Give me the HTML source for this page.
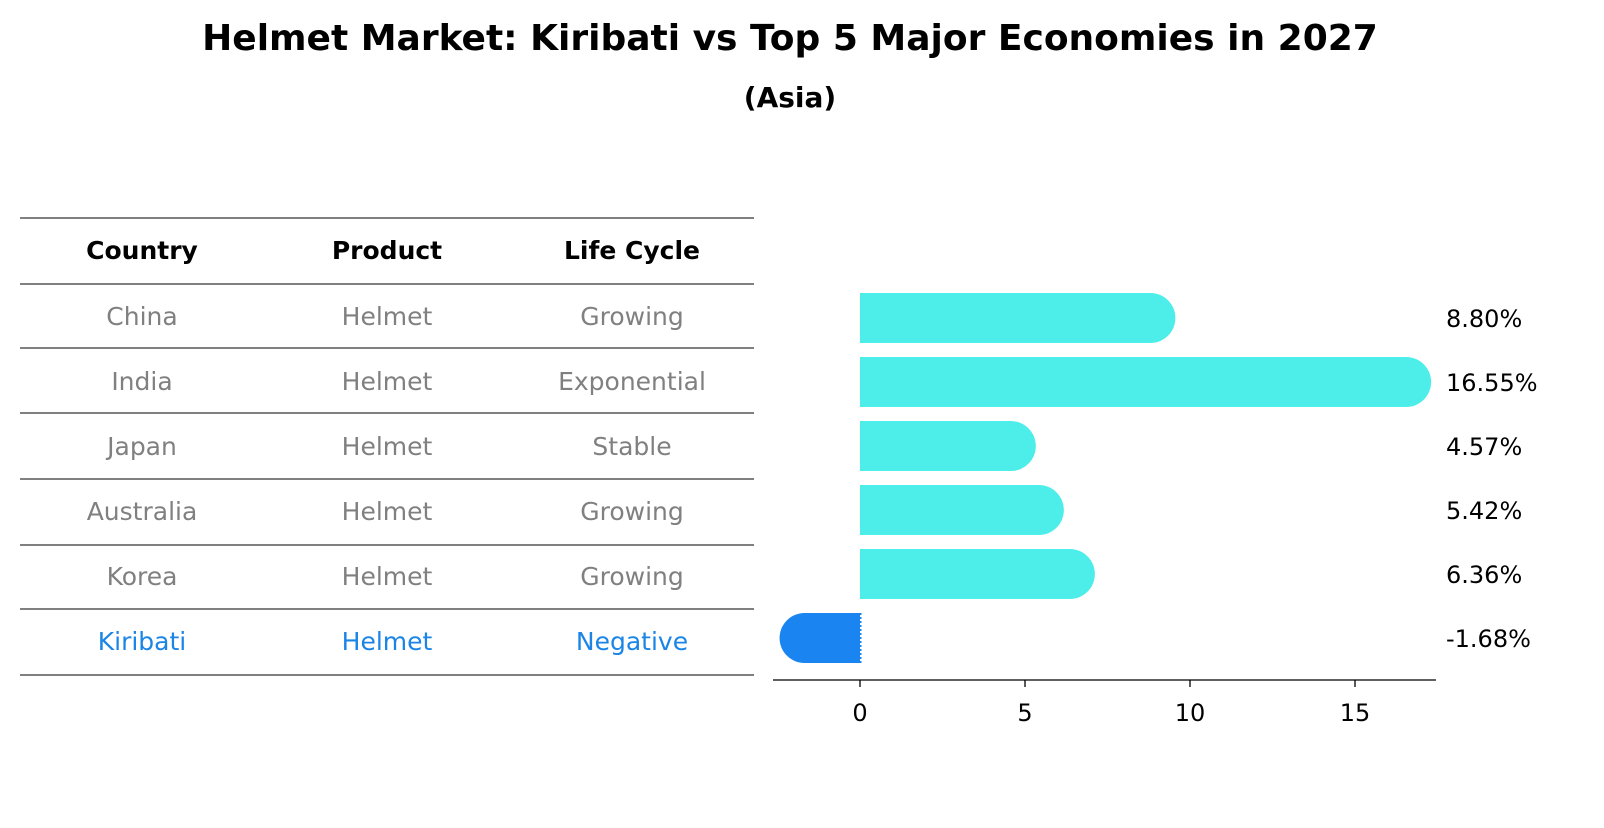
<!DOCTYPE html>
<html><head><meta charset="utf-8"><style>
body{margin:0;background:#fff;}
</style></head><body>
<svg width="1604" height="823" xmlns="http://www.w3.org/2000/svg" font-family="DejaVu Sans, sans-serif">
<text x="790" y="50" text-anchor="middle" font-size="36" font-weight="bold">Helmet Market: Kiribati vs Top 5 Major Economies in 2027</text>
<text x="790" y="107" text-anchor="middle" font-size="28" font-weight="bold">(Asia)</text>
<g id="table"></g>
<g id="bars"></g>
</svg>
<script>
const countries=["China","India","Japan","Australia","Korea","Kiribati"];
const products=["Helmet","Helmet","Helmet","Helmet","Helmet","Helmet"];
const lifeCycles=["Growing","Exponential","Stable","Growing","Growing","Negative"];
const growth=[8.80,16.55,4.57,5.42,6.36,-1.68];
const xTicks=[0,5,10,15];
const NS="http://www.w3.org/2000/svg";
function mk(tag,attrs,parent,txt){const e=document.createElementNS(NS,tag);for(const k in attrs)e.setAttribute(k,attrs[k]);if(txt!==undefined)e.textContent=txt;parent.appendChild(e);return e;}
const tbl=document.getElementById('table');
const lines=[218,284,348,413,479,545,609,675];
lines.forEach(y=>{const l=mk('line',{x1:20,x2:754,y1:y,y2:y,stroke:'#000','stroke-width':1},tbl);

});
const cx=[142,387,632];
["Country","Product","Life Cycle"].forEach((h,i)=>{const t=mk('text',{x:cx[i],y:259,'text-anchor':'middle','font-size':25,'font-weight':'bold'},tbl,h);

});
countries.forEach((c,r)=>{const y=325+r*65;const col=c==="Kiribati"?"#1a85e6":"#808080";
[c,products[r],lifeCycles[r]].forEach((v,i)=>{const t=mk('text',{x:cx[i],y:y,'text-anchor':'middle','font-size':25,fill:col},tbl,v);

});});
const g=document.getElementById('bars');
const x=v=>860+v*33;
const yc=i=>318+i*64;
const bh=50,rad=25;
countries.forEach((c,i)=>{const v=growth[i];const neg=v<0;const col=neg?"#1a85f0":"#4deeea";
const x0=x(0),x1=x(v);const yt=yc(i)-bh/2;
let d;
if(!neg){d=`M${x0},${yt} L${x1},${yt} A${rad},${rad} 0 0 1 ${x1},${yt+bh} L${x0},${yt+bh} Z`;}
else{d=`M${x0},${yt} L${x1},${yt} A${rad},${rad} 0 0 0 ${x1},${yt+bh} L${x0},${yt+bh} Z`;}
const p=mk('path',{d:d,fill:col},g);


if(neg){const l=mk('line',{x1:x0,x2:x0,y1:yt,y2:yt+bh,stroke:'#1a85f0','stroke-width':3,'stroke-dasharray':'2,2'},g);

}
const t=mk('text',{x:1446,y:yc(i)+9,'font-size':24},g,v.toFixed(2)+'%');

});
const ax=mk('line',{x1:773,x2:1436,y1:680,y2:680,stroke:'#000','stroke-width':1.3},g);


xTicks.forEach(v=>{const tk=mk('line',{x1:x(v),x2:x(v),y1:680,y2:687,stroke:'#000','stroke-width':1.3},g);


const t=mk('text',{x:x(v),y:721,'text-anchor':'middle','font-size':24},g,String(v));

});
</script>
</body></html>
